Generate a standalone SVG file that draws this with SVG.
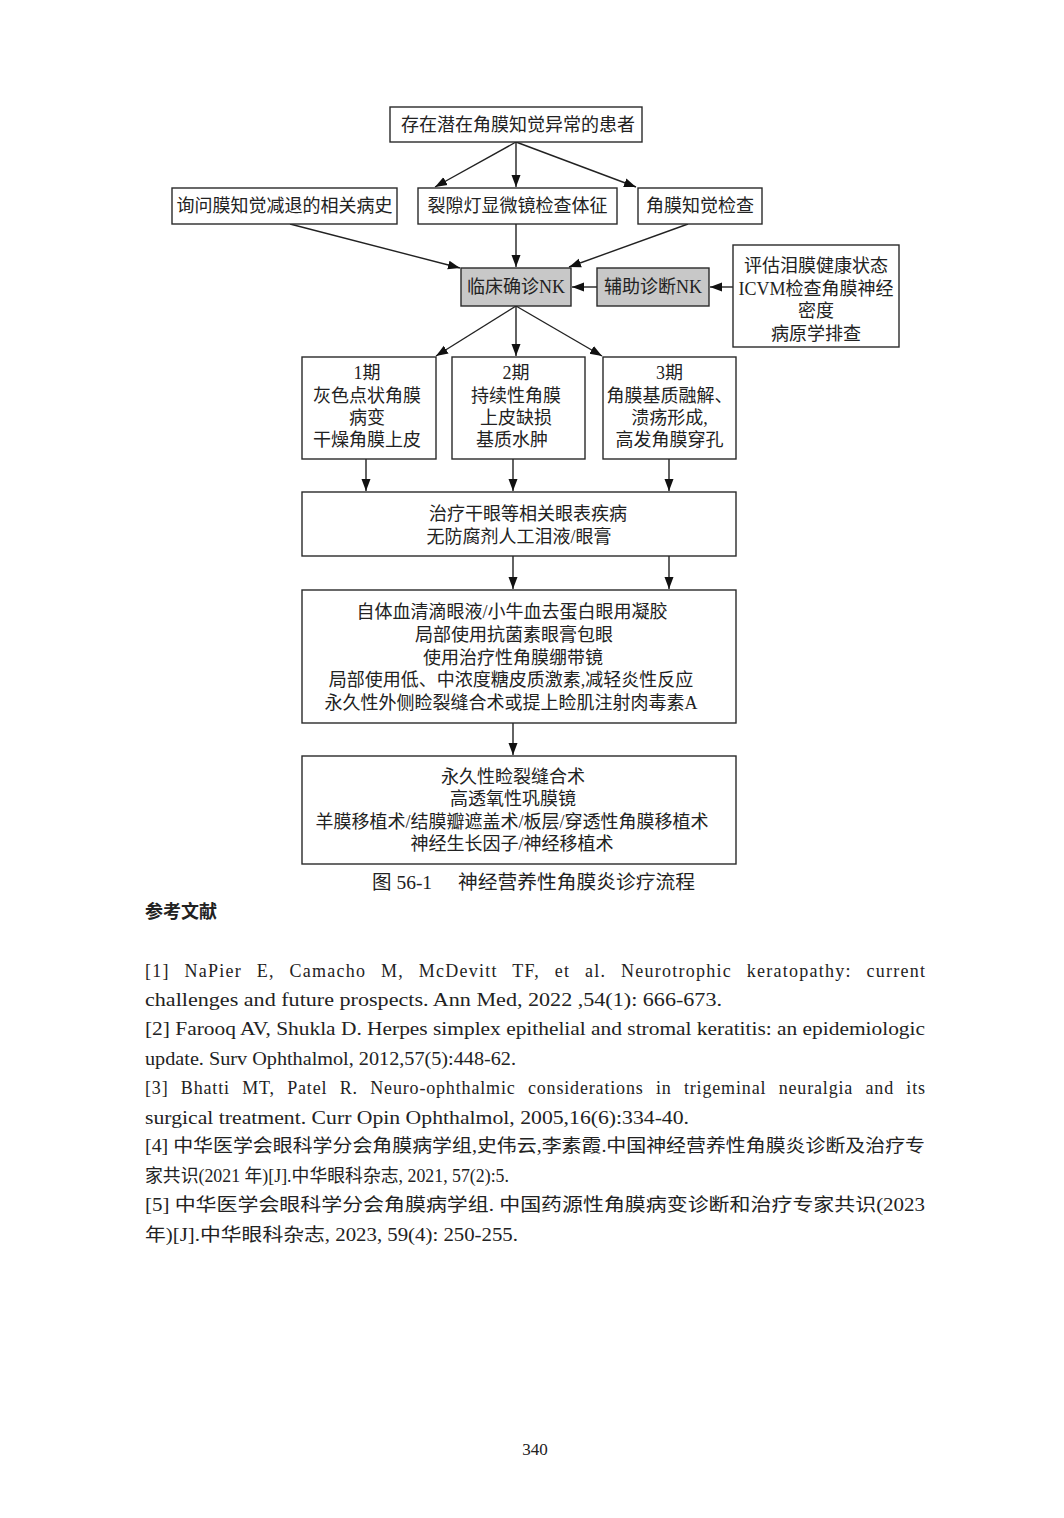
<svg xmlns="http://www.w3.org/2000/svg" width="1064" height="1518" viewBox="0 0 1064 1518">
<style>
.bx{fill:#fff;stroke:#2a2a2a;stroke-width:1.4}
.gy{fill:#c8c8c8;stroke:#2a2a2a;stroke-width:1.4}
.t{font-family:"Liberation Serif","Noto Sans CJK SC",serif;font-size:18px;fill:#222;text-anchor:middle}
.c{stroke:#222;stroke-width:1.4;fill:none;marker-end:url(#ah)}
.r{font-family:"Liberation Serif","Noto Sans CJK SC",serif;font-size:18px;fill:#222}
.cap{font-family:"Liberation Serif","Noto Sans CJK SC",serif;font-size:19.5px;fill:#222}
</style>
<defs>
<marker id="ah" viewBox="0 0 12 10" refX="12" refY="5" markerWidth="12" markerHeight="10" orient="auto" markerUnits="userSpaceOnUse">
<path d="M0,0.5 L12,5 L0,9.5 z" fill="#111"/>
</marker>
</defs>
<rect width="1064" height="1518" fill="#fff"/>

<g id="connectors">
<line class="c" x1="516" y1="142" x2="435" y2="187"/>
<line class="c" x1="516" y1="142" x2="516" y2="187"/>
<line class="c" x1="516" y1="142" x2="636" y2="187"/>
<line class="c" x1="290" y1="224" x2="460" y2="268"/>
<line class="c" x1="516" y1="224" x2="516" y2="267"/>
<line class="c" x1="688" y1="224" x2="569" y2="267"/>
<line class="c" x1="597" y1="287" x2="572" y2="287"/>
<line class="c" x1="733" y1="287" x2="710" y2="287"/>
<line class="c" x1="516" y1="306" x2="436" y2="356"/>
<line class="c" x1="516" y1="306" x2="516" y2="356"/>
<line class="c" x1="516" y1="306" x2="602" y2="356"/>
<line class="c" x1="366" y1="459" x2="366" y2="491"/>
<line class="c" x1="513" y1="459" x2="513" y2="491"/>
<line class="c" x1="669" y1="459" x2="669" y2="491"/>
<line class="c" x1="513" y1="556" x2="513" y2="589"/>
<line class="c" x1="669" y1="556" x2="669" y2="589"/>
<line class="c" x1="513" y1="723" x2="513" y2="755"/>
</g>

<g id="n_top">
<rect class="bx" x="390" y="107" width="252" height="35"/>
<text class="t" x="518" y="131">存在潜在角膜知觉异常的患者</text>
</g>
<g id="n_history">
<rect class="bx" x="172" y="188" width="225" height="36"/>
<text class="t" x="284.5" y="212">询问膜知觉减退的相关病史</text>
</g>
<g id="n_slitlamp">
<rect class="bx" x="418" y="188" width="199" height="36"/>
<text class="t" x="517.5" y="212">裂隙灯显微镜检查体征</text>
</g>
<g id="n_sensation">
<rect class="bx" x="638" y="188" width="124" height="36"/>
<text class="t" x="700" y="212">角膜知觉检查</text>
</g>
<g id="n_clinical">
<rect class="gy" x="461" y="268" width="110" height="38"/>
<text class="t" x="516" y="293">临床确诊NK</text>
</g>
<g id="n_aux">
<rect class="gy" x="597" y="268" width="112" height="38"/>
<text class="t" x="653" y="293">辅助诊断NK</text>
</g>
<g id="n_eval">
<rect class="bx" x="733" y="245" width="166" height="102"/>
<text class="t" x="816" y="272">评估泪膜健康状态</text>
<text class="t" x="816" y="295">ICVM检查角膜神经</text>
<text class="t" x="816" y="317">密度</text>
<text class="t" x="816" y="340">病原学排查</text>
</g>
<g id="n_stage1">
<rect class="bx" x="302" y="357" width="134" height="102"/>
<text class="t" x="367" y="379">1期</text>
<text class="t" x="367" y="402">灰色点状角膜</text>
<text class="t" x="367" y="424">病变</text>
<text class="t" x="367" y="446">干燥角膜上皮</text>
</g>
<g id="n_stage2">
<rect class="bx" x="452" y="357" width="133" height="102"/>
<text class="t" x="516" y="379">2期</text>
<text class="t" x="516" y="402">持续性角膜</text>
<text class="t" x="516" y="424">上皮缺损</text>
<text class="t" x="512" y="446">基质水肿</text>
</g>
<g id="n_stage3">
<rect class="bx" x="603" y="357" width="133" height="102"/>
<text class="t" x="669.5" y="379">3期</text>
<text class="t" x="669.5" y="402">角膜基质融解、</text>
<text class="t" x="669.5" y="424">溃疡形成,</text>
<text class="t" x="669.5" y="446">高发角膜穿孔</text>
</g>
<g id="n_treat1">
<rect class="bx" x="302" y="492" width="434" height="64"/>
<text class="t" x="528" y="520">治疗干眼等相关眼表疾病</text>
<text class="t" x="519" y="543">无防腐剂人工泪液/眼膏</text>
</g>
<g id="n_treat2">
<rect class="bx" x="302" y="590" width="434" height="133"/>
<text class="t" x="512" y="618">自体血清滴眼液/小牛血去蛋白眼用凝胶</text>
<text class="t" x="514" y="641">局部使用抗菌素眼膏包眼</text>
<text class="t" x="513" y="664">使用治疗性角膜绷带镜</text>
<text class="t" x="511" y="686">局部使用低、中浓度糖皮质激素,减轻炎性反应</text>
<text class="t" x="511" y="709">永久性外侧睑裂缝合术或提上睑肌注射肉毒素A</text>
</g>
<g id="n_treat3">
<rect class="bx" x="302" y="756" width="434" height="108"/>
<text class="t" x="513" y="783">永久性睑裂缝合术</text>
<text class="t" x="513" y="805">高透氧性巩膜镜</text>
<text class="t" x="512" y="828">羊膜移植术/结膜瓣遮盖术/板层/穿透性角膜移植术</text>
<text class="t" x="512" y="850">神经生长因子/神经移植术</text>
</g>

<g id="caption">
<text class="cap" x="372" y="889">图 56-1</text>
<text class="cap" x="458" y="889" textLength="237" lengthAdjust="spacingAndGlyphs">神经营养性角膜炎诊疗流程</text>
</g>

<g id="references">
<text class="r" x="145" y="918" style="font-weight:bold">参考文献</text>
<text class="r" x="145" y="977" word-spacing="9" textLength="780" lengthAdjust="spacing">[1] NaPier E, Camacho M, McDevitt TF, et al. Neurotrophic keratopathy: current</text>
<text class="r" x="145" y="1006" textLength="577" lengthAdjust="spacingAndGlyphs">challenges and future prospects. Ann Med,  2022 ,54(1): 666-673.</text>
<text class="r" x="145" y="1035" textLength="780" lengthAdjust="spacingAndGlyphs">[2] Farooq AV, Shukla D. Herpes simplex epithelial and stromal keratitis: an epidemiologic</text>
<text class="r" x="145" y="1065" textLength="371" lengthAdjust="spacingAndGlyphs">update. Surv Ophthalmol,  2012,57(5):448-62.</text>
<text class="r" x="145" y="1094" word-spacing="7" textLength="780" lengthAdjust="spacing">[3] Bhatti MT, Patel R. Neuro-ophthalmic considerations in trigeminal neuralgia and its</text>
<text class="r" x="145" y="1124" textLength="544" lengthAdjust="spacingAndGlyphs">surgical treatment. Curr Opin Ophthalmol,  2005,16(6):334-40.</text>
<text class="r" x="145" y="1152" textLength="780" lengthAdjust="spacingAndGlyphs">[4] 中华医学会眼科学分会角膜病学组,史伟云,李素霞.中国神经营养性角膜炎诊断及治疗专</text>
<text class="r" x="145" y="1182" textLength="364" lengthAdjust="spacingAndGlyphs">家共识(2021 年)[J].中华眼科杂志, 2021, 57(2):5.</text>
<text class="r" x="145" y="1211" textLength="780" lengthAdjust="spacingAndGlyphs">[5] 中华医学会眼科学分会角膜病学组. 中国药源性角膜病变诊断和治疗专家共识(2023</text>
<text class="r" x="145" y="1241" textLength="373" lengthAdjust="spacingAndGlyphs">年)[J].中华眼科杂志, 2023, 59(4): 250-255.</text>
</g>

<text class="r" x="535" y="1455" style="font-size:17px;text-anchor:middle">340</text>
</svg>
